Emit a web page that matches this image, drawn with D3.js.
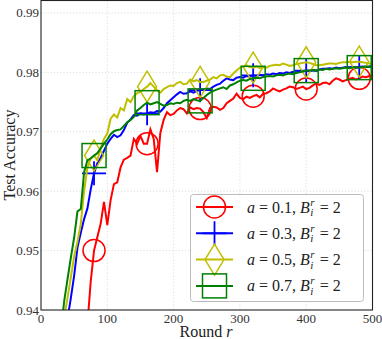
<!DOCTYPE html>
<html lang="en">
<head>
<meta charset="UTF-8">
<title>Test Accuracy vs Round</title>
<script src="https://d3js.org/d3.v7.min.js"></script>
<style>
  body { margin: 0; background: #fff; }
  svg { display: block; font-family: 'Liberation Serif', 'DejaVu Serif', serif; }
  .tick-label { fill: #333; font-size: 13px; }
  .grid line { stroke: #d4d4d4; stroke-width: 0.8; stroke-dasharray: 1.2,2; }
  text { white-space: pre; }
</style>
</head>
<body>
<svg id="chart" width="382" height="339"></svg>
<script>
// rounds (every 5 rounds, 30..500)
const rounds = [
  30, 35, 40, 45, 50, 55, 60, 65, 70, 75,
  80, 85, 90, 95, 100, 105, 110, 115, 120, 125,
  130, 135, 140, 145, 150, 155, 160, 165, 170, 175,
  180, 185, 190, 195, 200, 205, 210, 215, 220, 225,
  230, 235, 240, 245, 250, 255, 260, 265, 270, 275,
  280, 285, 290, 295, 300, 305, 310, 315, 320, 325,
  330, 335, 340, 345, 350, 355, 360, 365, 370, 375,
  380, 385, 390, 395, 400, 405, 410, 415, 420, 425,
  430, 435, 440, 445, 450, 455, 460, 465, 470, 475,
  480, 485, 490, 495, 500
];

// a = 0.1
const accA01 = [
  null, null, null, null, null, null, null, null, 0.9375, 0.9448,
  0.9500, 0.9523, 0.9545, 0.9582, 0.9543, 0.9585, 0.9612, 0.9615, 0.9640, 0.9653,
  0.9656, 0.9660, 0.9688, 0.9680, 0.9693, 0.9680, 0.9680, 0.9704, 0.9688, 0.9632,
  0.9698, 0.9720, 0.9733, 0.9728, 0.9730, 0.9736, 0.9740, 0.9738, 0.9731, 0.9741,
  0.9738, 0.9740, 0.9739, 0.9733, 0.9723, 0.9740, 0.9742, 0.9741, 0.9737, 0.9740,
  0.9748, 0.9752, 0.9756, 0.9764, 0.9757, 0.9755, 0.9759, 0.9757, 0.9760, 0.9762,
  0.9758, 0.9764, 0.9765, 0.9768, 0.9773, 0.9770, 0.9768, 0.9771, 0.9773, 0.9776,
  0.9775, 0.9772, 0.9774, 0.9776, 0.9772, 0.9774, 0.9778, 0.9781, 0.9779, 0.9782,
  0.9783, 0.9780, 0.9786, 0.9790, 0.9788, 0.9785, 0.9787, 0.9789, 0.9791, 0.9788,
  0.9790, 0.9793, 0.9792, 0.9794, 0.9795
];

// a = 0.3
const accA03 = [
  null, null, 0.9385, 0.9420, 0.9458, 0.9505, 0.9530, 0.9553, 0.9571, 0.9603,
  0.9630, 0.9647, 0.9656, 0.9668, 0.9680, 0.9688, 0.9695, 0.9691, 0.9694, 0.9703,
  0.9715, 0.9721, 0.9728, 0.9727, 0.9731, 0.9729, 0.9731, 0.9733, 0.9732, 0.9735,
  0.9734, 0.9740, 0.9748, 0.9753, 0.9758, 0.9763, 0.9767, 0.9764, 0.9765, 0.9768,
  0.9766, 0.9769, 0.9770, 0.9771, 0.9773, 0.9772, 0.9776, 0.9779, 0.9781, 0.9786,
  0.9790, 0.9788, 0.9787, 0.9791, 0.9792, 0.9791, 0.9794, 0.9793, 0.9795, 0.9794,
  0.9796, 0.9795, 0.9797, 0.9796, 0.9798, 0.9797, 0.9799, 0.9798, 0.9800, 0.9799,
  0.9801, 0.9800, 0.9802, 0.9801, 0.9803, 0.9802, 0.9804, 0.9803, 0.9805, 0.9806,
  0.9806, 0.9807, 0.9806, 0.9808, 0.9807, 0.9808, 0.9809, 0.9808, 0.9809, 0.9808,
  0.9809, 0.9810, 0.9809, 0.9810, 0.9811
];

// a = 0.5
const accA05 = [
  0.9350, 0.9388, 0.9420, 0.9455, 0.9490, 0.9515, 0.9545, 0.9600, 0.9640, 0.9655,
  0.9660, 0.9652, 0.9672, 0.9688, 0.9697, 0.9722, 0.9729, 0.9724, 0.9740, 0.9736,
  0.9755, 0.9750, 0.9760, 0.9765, 0.9767, 0.9772, 0.9776, 0.9782, 0.9776, 0.9770,
  0.9766, 0.9772, 0.9775, 0.9778, 0.9777, 0.9782, 0.9784, 0.9780, 0.9781, 0.9788,
  0.9785, 0.9787, 0.9784, 0.9784, 0.9786, 0.9788, 0.9792, 0.9790, 0.9795, 0.9796,
  0.9793, 0.9792, 0.9798, 0.9803, 0.9808, 0.9810, 0.9812, 0.9809, 0.9808, 0.9810,
  0.9807, 0.9809, 0.9808, 0.9811, 0.9812, 0.9813, 0.9812, 0.9815, 0.9813, 0.9811,
  0.9812, 0.9814, 0.9815, 0.9816, 0.9817, 0.9816, 0.9814, 0.9812, 0.9812, 0.9813,
  0.9814, 0.9815, 0.9815, 0.9814, 0.9816, 0.9817, 0.9817, 0.9818, 0.9817, 0.9818,
  0.9818, 0.9817, 0.9816, 0.9815, 0.9815
];

// a = 0.7
const accA07 = [
  0.9365, 0.9415, 0.9452, 0.9488, 0.9522, 0.9566, 0.9570, 0.9632, 0.9652, 0.9655,
  0.9660, 0.9664, 0.9672, 0.9680, 0.9687, 0.9696, 0.9701, 0.9703, 0.9704, 0.9710,
  0.9716, 0.9720, 0.9725, 0.9736, 0.9740, 0.9745, 0.9749, 0.9746, 0.9748, 0.9750,
  0.9747, 0.9744, 0.9745, 0.9748, 0.9747, 0.9749, 0.9748, 0.9752, 0.9754, 0.9752,
  0.9755, 0.9753, 0.9752, 0.9757, 0.9762, 0.9766, 0.9769, 0.9771, 0.9773, 0.9775,
  0.9772, 0.9778, 0.9780, 0.9783, 0.9786, 0.9787, 0.9786, 0.9789, 0.9790, 0.9791,
  0.9790, 0.9792, 0.9793, 0.9794, 0.9793, 0.9795, 0.9796, 0.9795, 0.9797, 0.9798,
  0.9797, 0.9799, 0.9800, 0.9802, 0.9803, 0.9803, 0.9804, 0.9803, 0.9805, 0.9804,
  0.9806, 0.9805, 0.9806, 0.9807, 0.9806, 0.9807, 0.9808, 0.9807, 0.9808, 0.9809,
  0.9808, 0.9809, 0.9810, 0.9809, 0.9810
];

const aValues = ["0.1", "0.3", "0.5", "0.7"];
const markerRounds = [80, 160, 240, 320, 400, 480];
const xTicks = [0, 100, 200, 300, 400, 500];
const yTicks = [0.94, 0.95, 0.96, 0.97, 0.98, 0.99];

const series = [
  { a: aValues[0], values: accA01, color: "#ff0000", marker: "circle" },
  { a: aValues[1], values: accA03, color: "#0000ff", marker: "plus" },
  { a: aValues[2], values: accA05, color: "#bfbf00", marker: "diamond" },
  { a: aValues[3], values: accA07, color: "#008000", marker: "square" }
];

const svg = d3.select("#chart");
const plotL = 41, plotR = 372.5, plotT = 0.5, plotB = 310;

const x = d3.scaleLinear().domain([0, 500]).range([plotL, plotR]);
const y = d3.scaleLinear().domain([0.94, 0.9921]).range([plotB, plotT]);

// grid
const grid = svg.append("g").attr("class", "grid");
grid.selectAll(".gx").data(xTicks.slice(1, -1)).enter().append("line")
  .attr("x1", d => x(d)).attr("x2", d => x(d)).attr("y1", plotT).attr("y2", plotB);
grid.selectAll(".gy").data(yTicks.slice(1)).enter().append("line")
  .attr("x1", plotL).attr("x2", plotR).attr("y1", d => y(d)).attr("y2", d => y(d));

// tick labels
svg.append("g").selectAll("text").data(xTicks).enter().append("text")
  .attr("class", "tick-label")
  .attr("x", d => x(d)).attr("y", 323)
  .attr("text-anchor", "middle")
  .text(d => d);
svg.append("g").selectAll("text").data(yTicks).enter().append("text")
  .attr("class", "tick-label")
  .attr("x", 39).attr("y", d => y(d) + 4.5)
  .attr("text-anchor", "end")
  .text(d => d.toFixed(2));

// axis titles
svg.append("text").attr("x", 206).attr("y", 337).attr("text-anchor", "middle")
  .attr("font-size", 16).attr("fill", "#222")
  .html('Round <tspan font-style="italic">r</tspan>');
svg.append("text").attr("transform", "translate(15,155) rotate(-90)")
  .attr("text-anchor", "middle").attr("font-size", 16).attr("fill", "#222")
  .text("Test Accuracy");

// clip
svg.append("clipPath").attr("id", "plotclip").append("rect")
  .attr("x", plotL).attr("y", plotT).attr("width", plotR - plotL).attr("height", plotB - plotT);

function drawMarker(g, type, cx, cy, color) {
  if (type === "circle") {
    g.append("circle").attr("cx", cx).attr("cy", cy).attr("r", 11)
      .attr("fill", "none").attr("stroke", color).attr("stroke-width", 1.5);
  } else if (type === "plus") {
    g.append("path").attr("d", `M${cx - 12},${cy}H${cx + 12}M${cx},${cy - 12}V${cy + 12}`)
      .attr("stroke", color).attr("stroke-width", 1.8).attr("fill", "none");
  } else if (type === "diamond") {
    g.append("path").attr("d", `M${cx},${cy - 15.5}L${cx + 9.5},${cy}L${cx},${cy + 15.5}L${cx - 9.5},${cy}Z`)
      .attr("stroke", color).attr("stroke-width", 1.5).attr("fill", "none");
  } else {
    g.append("rect").attr("x", cx - 12).attr("y", cy - 12).attr("width", 24).attr("height", 24)
      .attr("stroke", color).attr("stroke-width", 1.5).attr("fill", "none");
  }
}

const line = d3.line()
  .defined(d => d.v != null)
  .x(d => x(d.r)).y(d => y(d.v));

const plot = svg.append("g").attr("clip-path", "url(#plotclip)");
series.forEach(s => {
  const pts = rounds.map((r, i) => ({ r: r, v: s.values[i] }));
  const g = plot.append("g");
  g.append("path").datum(pts).attr("d", line)
    .attr("fill", "none").attr("stroke", s.color).attr("stroke-width", 2)
    .attr("stroke-linejoin", "miter");
  pts.filter(p => markerRounds.includes(p.r) && p.v != null)
    .forEach(p => drawMarker(g, s.marker, x(p.r), y(p.v), s.color));
});

// frame
svg.append("rect").attr("x", plotL).attr("y", plotT).attr("width", plotR - plotL).attr("height", plotB - plotT)
  .attr("fill", "none").attr("stroke", "#222").attr("stroke-width", 1.1);

// legend
const lg = svg.append("g");
lg.append("rect").attr("x", 190.5).attr("y", 194.5).attr("width", 173).attr("height", 107).attr("rx", 3)
  .attr("fill", "rgba(255,255,255,0.85)").attr("stroke", "#bbb").attr("stroke-width", 1);
series.forEach((s, i) => {
  const ly = 207 + i * 26.3;
  lg.append("line").attr("x1", 196).attr("x2", 233).attr("y1", ly).attr("y2", ly)
    .attr("stroke", s.color).attr("stroke-width", 2);
  drawMarker(lg, s.marker, 214.5, ly, s.color);
  const tx = 247, ty = ly + 5.5;
  const t1 = lg.append("text").attr("x", tx).attr("y", ty).attr("font-size", 16).attr("fill", "#222");
  t1.append("tspan").attr("font-style", "italic").text("a");
  t1.append("tspan").text(" = " + s.a + ", ");
  t1.append("tspan").attr("font-style", "italic").text("B");
  const w = t1.node().getComputedTextLength();
  lg.append("text").attr("x", tx + w + 0.5).attr("y", ty - 7).attr("font-size", 11)
    .attr("font-style", "italic").attr("fill", "#222").text("r");
  lg.append("text").attr("x", tx + w + 0.5).attr("y", ty + 3.5).attr("font-size", 11)
    .attr("font-style", "italic").attr("fill", "#222").text("i");
  lg.append("text").attr("x", tx + w + 6).attr("y", ty).attr("font-size", 16)
    .attr("fill", "#222").text(" = 2");
});
</script>
</body>
</html>
